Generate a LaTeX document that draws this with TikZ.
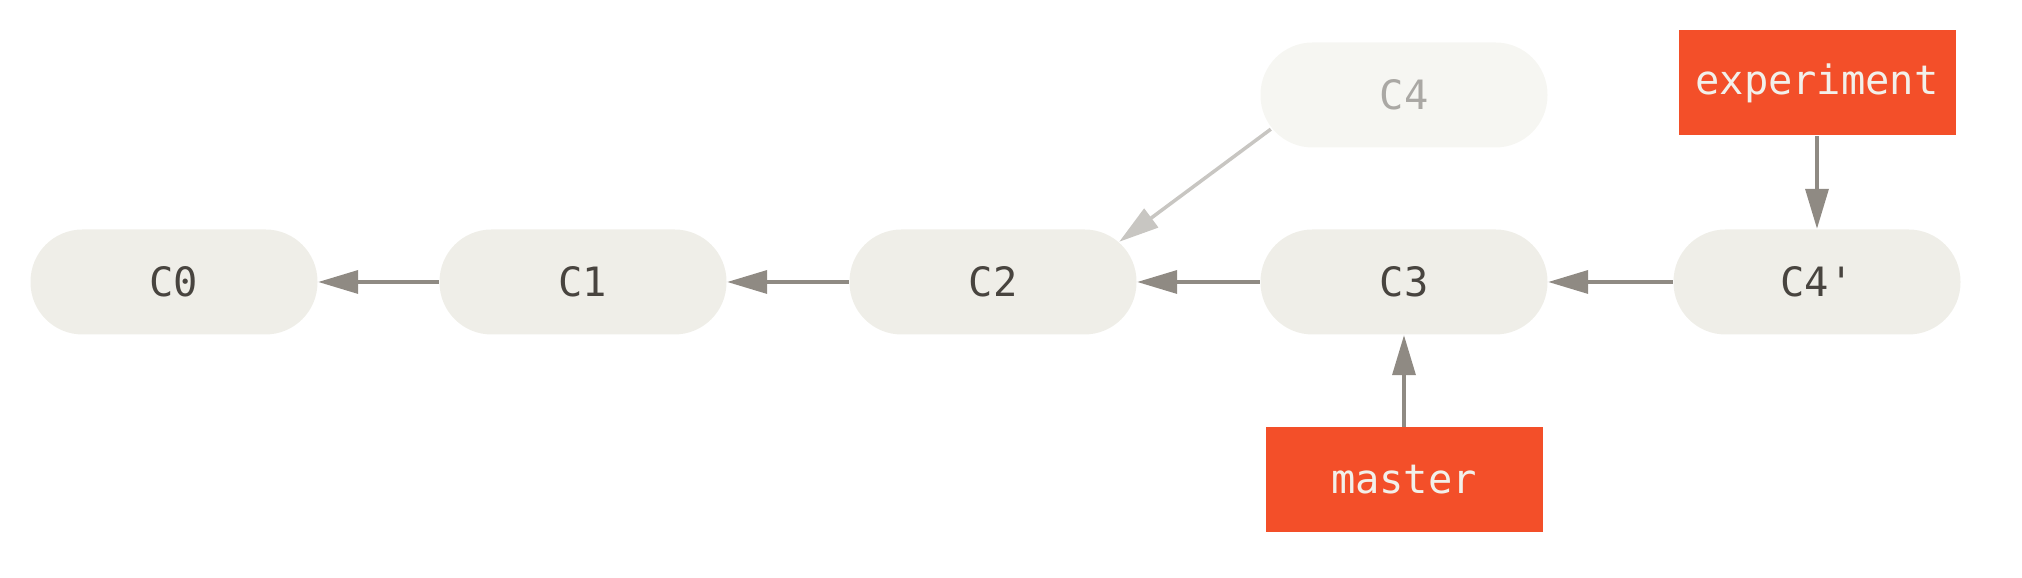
\documentclass[tikz,border=0pt]{standalone}
\usepackage{fontspec}
\setmonofont{DejaVu Sans Mono}
\usetikzlibrary{arrows.meta}
\definecolor{commitfill}{RGB}{239,238,232}
\definecolor{ghostfill}{RGB}{246,246,242}
\definecolor{committext}{RGB}{72,68,63}
\definecolor{ghosttext}{RGB}{170,168,164}
\definecolor{branchred}{RGB}{243,79,41}
\definecolor{branchtext}{RGB}{242,240,234}
\definecolor{arrowgrey}{RGB}{143,138,131}
\definecolor{ghostarrow}{RGB}{200,198,194}
\tikzset{
  commit/.style={fill=commitfill, rounded corners=0.52cm, minimum width=2.87cm, minimum height=1.05cm, inner sep=0pt, text=committext, font=\ttfamily\fontsize{11.5}{13}\selectfont},
  ghost/.style={commit, fill=ghostfill, text=ghosttext},
  branch/.style={fill=branchred, minimum width=2.77cm, minimum height=1.05cm, inner sep=0pt, text=branchtext, font=\ttfamily\fontsize{11.5}{13}\selectfont},
  link/.style={draw=arrowgrey, line width=1pt, -{Triangle[length=0.4cm,width=0.23cm]}, arrowgrey},
  ghostlink/.style={draw=ghostarrow, line width=1pt, -{Triangle[length=0.4cm,width=0.23cm]}, ghostarrow}
}
\begin{document}
\begin{tikzpicture}
\useasboundingbox (0,0) rectangle (20.22,5.78);
\node[commit] (c0) at (1.74,2.96) {C0};
\node[commit] (c1) at (5.83,2.96) {C1};
\node[commit] (c2) at (9.93,2.96) {C2};
\node[commit] (c3) at (14.04,2.96) {C3};
\node[commit] (c4p) at (18.17,2.96) {C4'};
\node[ghost] (c4) at (14.04,4.83) {C4};
\node[branch] (exp) at (18.17,4.95) {experiment};
\node[branch] (master) at (14.04,0.98) {master};
\draw[link] (c1.west) -- (c0.east);
\draw[link] (c2.west) -- (c1.east);
\draw[link] (c3.west) -- (c2.east);
\draw[link] (c4p.west) -- (c3.east);
\draw[link] (exp.south) -- (c4p.north);
\draw[link] (master.north) -- (c3.south);
\draw[ghostlink] ([shift={(0.11,0.19)}]c4.south west) -- ([shift={(-0.18,-0.13)}]c2.north east);
\end{tikzpicture}
\end{document}
